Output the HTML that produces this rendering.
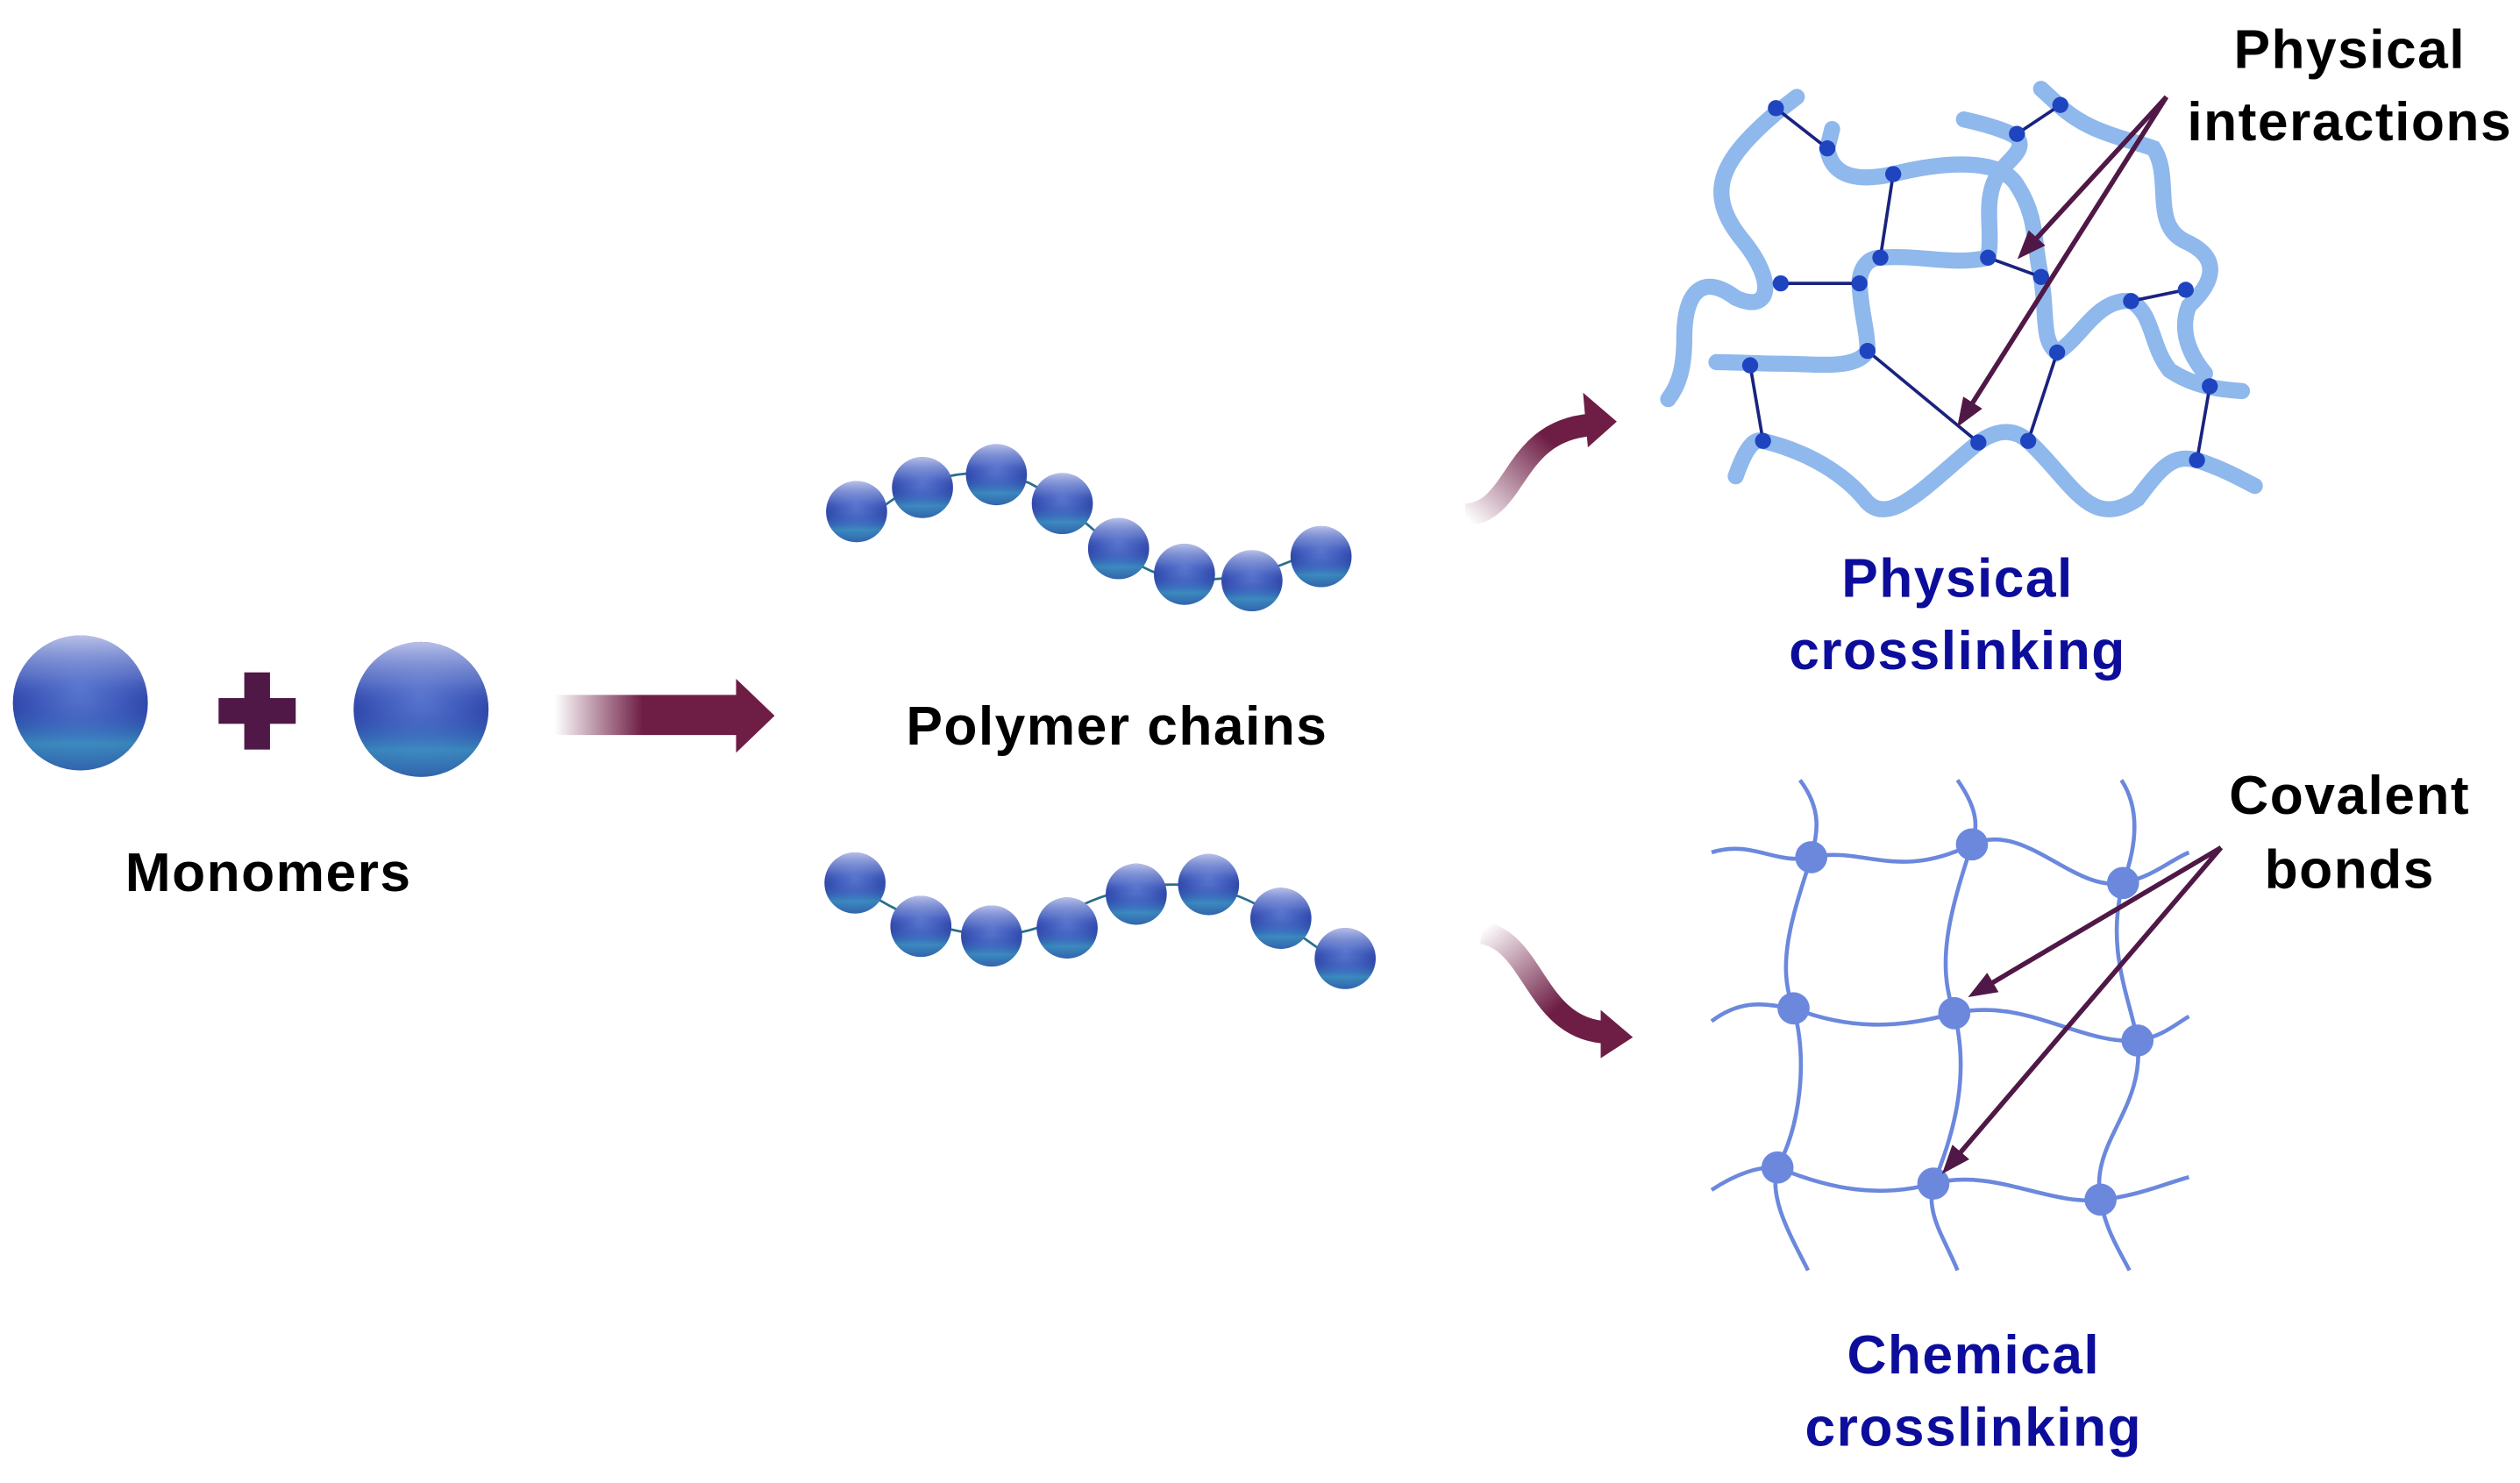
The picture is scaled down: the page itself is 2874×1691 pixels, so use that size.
<!DOCTYPE html>
<html><head><meta charset="utf-8"><style>html,body{margin:0;padding:0;background:#fff}svg{display:block}</style></head>
<body>
<svg width="2874" height="1691" viewBox="0 0 1568 922" xmlns="http://www.w3.org/2000/svg">
<defs>
<radialGradient id="sph" cx="50%" cy="40%" r="60%">
<stop offset="0" stop-color="#5a78d0"/><stop offset="0.6" stop-color="#3b56b8"/><stop offset="1" stop-color="#2a3fa0"/></radialGradient>
<linearGradient id="sphv" x1="0" y1="0" x2="0" y2="1">
<stop offset="0" stop-color="#c8cdee" stop-opacity="0.9"/><stop offset="0.3" stop-color="#7a8ed6" stop-opacity="0.5"/><stop offset="0.5" stop-color="#3550b8" stop-opacity="0"/><stop offset="0.8" stop-color="#3fb0c8" stop-opacity="0.6"/><stop offset="1" stop-color="#3a8ab8" stop-opacity="0.5"/></linearGradient>
<linearGradient id="arr" x1="0" y1="0" x2="1" y2="0">
<stop offset="0" stop-color="#6e1e45" stop-opacity="0"/><stop offset="0.4" stop-color="#6e1e45" stop-opacity="1"/><stop offset="1" stop-color="#6e1e45"/></linearGradient>
<linearGradient id="carr1" gradientUnits="userSpaceOnUse" x1="912" y1="322" x2="960" y2="270">
<stop offset="0" stop-color="#6e1e45" stop-opacity="0"/><stop offset="1" stop-color="#6e1e45"/></linearGradient>
<linearGradient id="carr2" gradientUnits="userSpaceOnUse" x1="922" y1="578" x2="965" y2="630">
<stop offset="0" stop-color="#6e1e45" stop-opacity="0"/><stop offset="1" stop-color="#6e1e45"/></linearGradient>
<g id="bead"><circle r="19" fill="url(#sph)"/><circle r="19" fill="url(#sphv)"/></g>
<marker id="ah" markerWidth="18" markerHeight="14" refX="14" refY="7" orient="auto" markerUnits="userSpaceOnUse"><path d="M0,0 L18,7 L0,14 Z" fill="#4f1846"/></marker>
</defs>

<g transform="translate(50,437)"><circle r="42" fill="url(#sph)"/><circle r="42" fill="url(#sphv)"/></g>
<g transform="translate(262,441)"><circle r="42" fill="url(#sph)"/><circle r="42" fill="url(#sphv)"/></g>
<rect x="152" y="418" width="16" height="48" fill="#4f1846"/>
<rect x="136" y="434" width="48" height="16" fill="#4f1846"/>
<path d="M345,432 H458 V422 L482,445 L458,468 V457 H345 Z" fill="url(#arr)"/>

<path d="M533,330 C560,300 600,285 640,300 C680,320 700,360 740,360 C780,362 800,350 835,335" fill="none" stroke="#2b6e8c" stroke-width="1.5"/>
<use href="#bead" x="533" y="318"/><use href="#bead" x="574" y="303"/><use href="#bead" x="620" y="295"/><use href="#bead" x="661" y="313"/><use href="#bead" x="696" y="341"/><use href="#bead" x="737" y="357"/><use href="#bead" x="779" y="361"/><use href="#bead" x="822" y="346"/>
<path d="M520,540 C560,575 620,595 660,570 C700,545 760,540 800,575 C820,590 835,600 850,608" fill="none" stroke="#2b6e8c" stroke-width="1.5"/>
<use href="#bead" x="532" y="549"/><use href="#bead" x="573" y="576"/><use href="#bead" x="617" y="582"/><use href="#bead" x="664" y="577"/><use href="#bead" x="707" y="556"/><use href="#bead" x="752" y="550"/><use href="#bead" x="797" y="571"/><use href="#bead" x="837" y="596"/>

<g font-family="Liberation Sans, sans-serif" font-weight="bold" font-size="34" text-anchor="middle" letter-spacing="0.8">
<text x="695" y="463" fill="#000">Polymer chains</text>
<text x="167" y="554" fill="#000">Monomers</text>
<text x="1462" y="42" fill="#000">Physical</text><text x="1462" y="87" fill="#000">interactions</text>
<text x="1218" y="371" fill="#0d0d9c">Physical</text><text x="1218" y="416" fill="#0d0d9c">crosslinking</text>
<text x="1462" y="506" fill="#000">Covalent</text><text x="1462" y="552" fill="#000">bonds</text>
<text x="1228" y="854" fill="#0d0d9c">Chemical</text><text x="1228" y="899" fill="#0d0d9c">crosslinking</text>
</g>

<path d="M912,320 C945,318 940,268 990,264" fill="none" stroke="url(#carr1)" stroke-width="14"/>
<path d="M985,244 L1006,262 L988,278 Z" fill="#6e1e45"/>
<path d="M922,580 C955,585 955,640 1000,642" fill="none" stroke="url(#carr2)" stroke-width="14"/>
<path d="M996,628 L1016,645 L996,658 Z" fill="#6e1e45"/>

<g fill="none" stroke="#8fb8ec" stroke-width="10" stroke-linecap="round">
<path d="M1118,60 L1105,70 C1070,100 1060,120 1085,150 C1105,175 1102,195 1080,185 C1060,170 1048,180 1048,210 C1048,230 1044,240 1038,248"/>
<path d="M1140,80 L1137,92 C1140,112 1160,112 1178,108 C1210,100 1245,98 1255,115 C1268,135 1265,150 1270,172 C1274,195 1270,212 1280,219 C1295,210 1305,185 1326,187 C1340,195 1338,215 1350,230 C1365,240 1380,242 1395,243"/>
<path d="M1222,74 C1240,78 1250,82 1255,85 C1262,95 1245,100 1240,115 C1235,130 1240,145 1237,160"/>
<path d="M1270,55 L1282,66 C1300,82 1320,85 1340,92 C1352,110 1338,140 1360,150 C1382,160 1378,175 1362,190 C1356,205 1362,220 1372,232"/>
<path d="M1237,160 C1215,165 1195,158 1170,160 C1160,160 1157,170 1157,176 C1158,195 1162,205 1162,218 C1155,230 1130,226 1110,226 C1095,226 1080,225 1068,225"/>
<path d="M1080,296 C1085,282 1090,272 1097,274 C1130,282 1150,298 1160,310 C1175,330 1200,300 1231,275 C1245,265 1255,268 1262,274 C1290,300 1300,330 1330,310 C1345,290 1352,282 1367,286 C1385,292 1395,298 1403,302"/>
</g>
<g stroke="#1a237e" stroke-width="2">
<line x1="1105" y1="67" x2="1137" y2="92"/><line x1="1178" y1="108" x2="1170" y2="160"/><line x1="1108" y1="176" x2="1157" y2="176"/><line x1="1237" y1="160" x2="1270" y2="172"/><line x1="1255" y1="83" x2="1282" y2="65"/><line x1="1162" y1="218" x2="1231" y2="275"/><line x1="1089" y1="227" x2="1097" y2="274"/><line x1="1280" y1="219" x2="1262" y2="274"/><line x1="1326" y1="187" x2="1360" y2="180"/><line x1="1375" y1="240" x2="1367" y2="286"/>
</g>
<g fill="#1f44c0">
<circle cx="1105" cy="67" r="5"/><circle cx="1137" cy="92" r="5"/><circle cx="1178" cy="108" r="5"/><circle cx="1170" cy="160" r="5"/><circle cx="1237" cy="160" r="5"/><circle cx="1270" cy="172" r="5"/><circle cx="1255" cy="83" r="5"/><circle cx="1282" cy="65" r="5"/><circle cx="1108" cy="176" r="5"/><circle cx="1157" cy="176" r="5"/><circle cx="1162" cy="218" r="5"/><circle cx="1089" cy="227" r="5"/><circle cx="1097" cy="274" r="5"/><circle cx="1231" cy="275" r="5"/><circle cx="1262" cy="274" r="5"/><circle cx="1280" cy="219" r="5"/><circle cx="1326" cy="187" r="5"/><circle cx="1360" cy="180" r="5"/><circle cx="1375" cy="240" r="5"/><circle cx="1367" cy="286" r="5"/>
</g>
<g stroke="#4f1846" stroke-width="3" fill="none">
<line x1="1348" y1="60" x2="1258" y2="158" marker-end="url(#ah)"/>
<line x1="1348" y1="60" x2="1220" y2="262" marker-end="url(#ah)"/>
</g>

<g fill="none" stroke="#6b88dd" stroke-width="2.5">
<path d="M1065,530 C1090,522 1105,538 1127,533 C1160,526 1180,548 1227,525 C1260,510 1290,555 1321,549 C1340,545 1350,535 1362,530"/>
<path d="M1065,635 C1085,620 1100,625 1116,627 C1150,640 1180,640 1216,630 C1260,620 1295,650 1330,647 C1345,645 1355,636 1362,632"/>
<path d="M1065,740 C1080,730 1095,725 1106,726 C1140,740 1170,745 1203,736 C1240,726 1275,750 1307,746 C1330,744 1350,735 1362,732"/>
<path d="M1120,485 C1135,505 1130,520 1127,533 C1115,570 1105,600 1116,627 C1125,660 1120,700 1106,726 C1100,745 1115,770 1125,790"/>
<path d="M1218,485 C1232,505 1230,515 1227,525 C1212,570 1205,600 1216,630 C1225,665 1218,700 1203,736 C1198,755 1210,770 1218,790"/>
<path d="M1320,485 C1333,505 1328,530 1321,549 C1310,590 1325,620 1330,647 C1335,690 1300,710 1307,746 C1310,765 1320,780 1325,790"/>
</g>
<g fill="#6b88dd">
<circle cx="1127" cy="533" r="10"/><circle cx="1227" cy="525" r="10"/><circle cx="1321" cy="549" r="10"/><circle cx="1116" cy="627" r="10"/><circle cx="1216" cy="630" r="10"/><circle cx="1330" cy="647" r="10"/><circle cx="1106" cy="726" r="10"/><circle cx="1203" cy="736" r="10"/><circle cx="1307" cy="746" r="10"/>
</g>
<g stroke="#4f1846" stroke-width="3" fill="none">
<line x1="1382" y1="527" x2="1228" y2="618" marker-end="url(#ah)"/>
<line x1="1382" y1="527" x2="1211" y2="727" marker-end="url(#ah)"/>
</g>
</svg>
</body></html>
